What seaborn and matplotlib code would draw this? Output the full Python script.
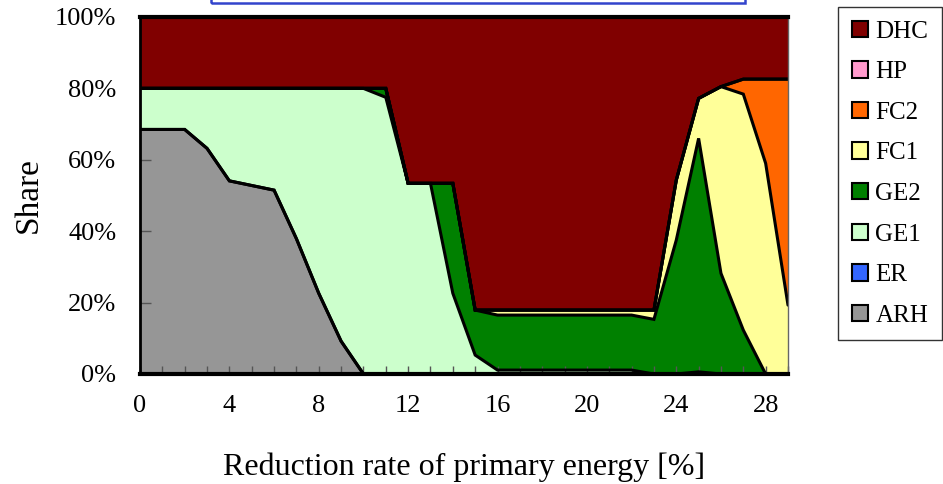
import numpy as np
import pandas as pd
import matplotlib
matplotlib.use("Agg")
import matplotlib.pyplot as plt
from matplotlib.patches import Rectangle, Patch
from matplotlib.ticker import MultipleLocator, FuncFormatter
import seaborn as sns

# Reduction rate of primary energy [%]
reduction = list(range(0, 30))

# Share of each system [%], stacked bottom to top
arh = [68.5, 68.5, 68.5, 63.2, 54.1, 52.8, 51.5, 37.9, 22.6, 9.2,
       0, 0, 0, 0, 0, 0, 0, 0, 0, 0,
       0, 0, 0, 0, 0, 0, 0, 0, 0, 0]
er = [0] * 30
ge1 = [11.5, 11.5, 11.5, 16.8, 25.9, 27.2, 28.5, 42.1, 57.4, 70.8,
       80.0, 77.5, 53.4, 53.4, 22.6, 5.3, 1.1, 1.1, 1.1, 1.1,
       1.1, 1.1, 1.1, 0, 0, 0.6, 0, 0, 0, 0]
ge2 = [0, 0, 0, 0, 0, 0, 0, 0, 0, 0,
       0, 2.5, 0, 0, 30.8, 12.6, 15.4, 15.4, 15.4, 15.4,
       15.4, 15.4, 15.4, 15.3, 37.5, 65.4, 28.2, 12.3, 0, 0]
fc1 = [0, 0, 0, 0, 0, 0, 0, 0, 0, 0,
       0, 0, 0, 0, 0, 0, 1.4, 1.4, 1.4, 1.4,
       1.4, 1.4, 1.4, 2.6, 16.8, 11.2, 52.3, 66.1, 59.0, 19.3]
fc2 = [0, 0, 0, 0, 0, 0, 0, 0, 0, 0,
       0, 0, 0, 0, 0, 0, 0, 0, 0, 0,
       0, 0, 0, 0, 0, 0, 0, 4.2, 23.6, 63.3]
hp = [0] * 30

series_names = ["ARH", "ER", "GE1", "GE2", "FC1", "FC2", "HP", "DHC"]
colors = {"ARH": "#969696", "ER": "#3366ff", "GE1": "#ccffcc", "GE2": "#008000",
          "FC1": "#ffff99", "FC2": "#ff6600", "HP": "#ff99cc", "DHC": "#800000"}

df = pd.DataFrame({"ARH": arh, "ER": er, "GE1": ge1, "GE2": ge2,
                   "FC1": fc1, "FC2": fc2, "HP": hp}, index=reduction)
df["DHC"] = 100 - df.sum(axis=1)

sns.set_theme(style="white")
plt.rcParams["font.family"] = ["Liberation Serif", "DejaVu Serif"]
plt.rcParams.update({"text.color": "black", "axes.labelcolor": "black",
                     "xtick.labelcolor": "black", "ytick.labelcolor": "black"})

fig = plt.figure(figsize=(9.43, 4.84), dpi=100)
ax = fig.add_axes([140 / 943, 1 - 374 / 484, (788 - 140) / 943, (374 - 17) / 484])

x = df.index.values
ys = [df[c].values for c in series_names]
ax.stackplot(x, *ys, colors=[colors[c] for c in series_names], linewidth=0)

# black outline along every band boundary
cum = np.cumsum(np.vstack(ys), axis=0)
for row in cum[:-1]:
    ax.plot(x, row, color="black", lw=2.2, solid_joinstyle="miter", zorder=3)

ax.set_xlim(0, 29)
ax.set_ylim(0, 100)
ax.xaxis.set_major_locator(MultipleLocator(4))
ax.xaxis.set_minor_locator(MultipleLocator(1))
ax.yaxis.set_major_locator(MultipleLocator(20))
ax.yaxis.set_major_formatter(FuncFormatter(lambda v, p: f"{int(v)}%"))
ax.tick_params(axis="x", which="both", direction="in", length=6, width=1,
               color="#555555", pad=15, labelsize=19, bottom=True)
ax.tick_params(axis="y", which="major", direction="in", length=8, width=1,
               color="#555555", pad=17, labelsize=19, left=True)
ax.set_axisbelow(False)

for side, lw, col in [("top", 3, "black"), ("bottom", 3, "black"),
                      ("left", 2, "black"), ("right", 1, "#666666")]:
    ax.spines[side].set_linewidth(lw)
    ax.spines[side].set_color(col)
    ax.spines[side].set_zorder(6)

ax.set_xlabel("Reduction rate of primary energy [%]", fontsize=23, labelpad=26)
ax.set_ylabel("Share", fontsize=24, labelpad=8)

handles = [Patch(facecolor=colors[c], edgecolor="black", linewidth=1.5, label=c)
           for c in series_names[::-1]]
leg = fig.legend(handles=handles, loc="upper left",
                 bbox_to_anchor=(838 / 943, 1 - 7 / 484), borderaxespad=0,
                 frameon=True, fancybox=False, fontsize=18, labelspacing=0.74,
                 handlelength=0.64, handleheight=0.64, handletextpad=0.3,
                 borderpad=0.55)
leg.get_frame().set_edgecolor("black")
leg.get_frame().set_linewidth(1)

# title frame running off the top edge
fig.add_artist(Rectangle((211 / 943, 1 - 3 / 484), (745 - 211) / 943, 0.2,
                         transform=fig.transFigure, fill=False,
                         edgecolor="#3344cc", lw=1.8, clip_on=False))

fig.savefig("out.png", dpi=100, facecolor="white")
